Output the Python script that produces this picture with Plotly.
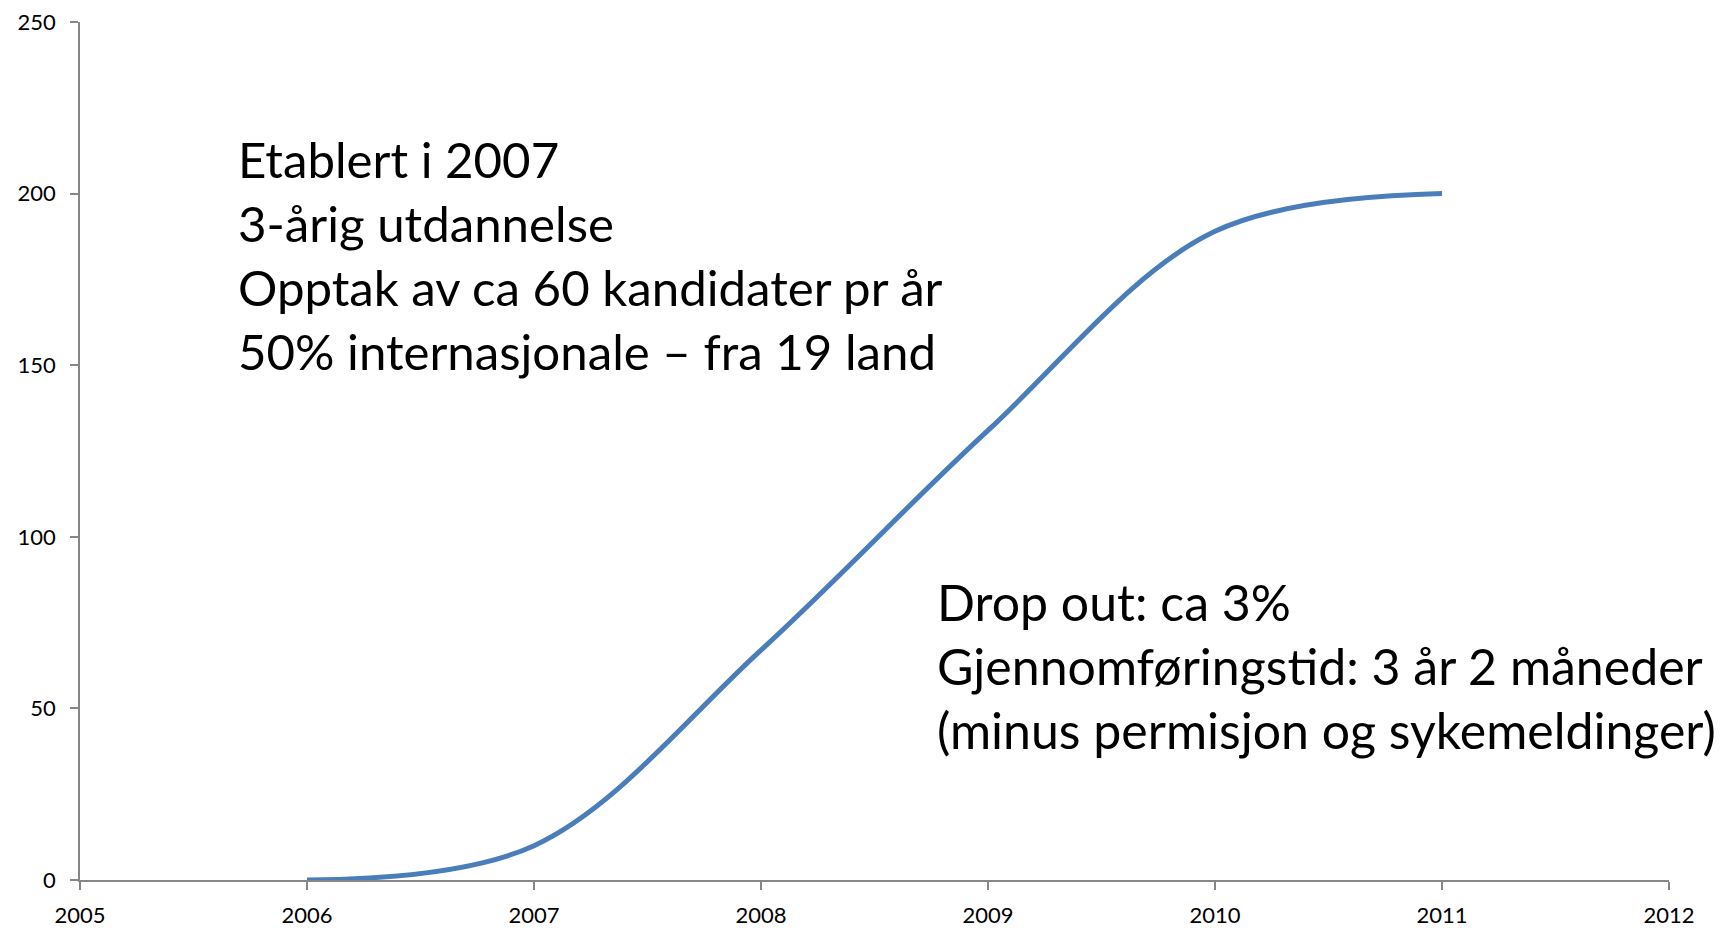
import plotly.graph_objects as go

years = [2006, 2007, 2008, 2009, 2010, 2011]
students = [0, 10, 67, 131, 189, 200]

x_ticks = [2005, 2006, 2007, 2008, 2009, 2010, 2011, 2012]
y_ticks = [0, 50, 100, 150, 200, 250]

text_block_1 = [
    "Etablert i 2007",
    "3-årig utdannelse",
    "Opptak av ca 60 kandidater pr år",
    "50% internasjonale – fra 19 land",
]
text_block_2 = [
    "Drop out: ca 3%",
    "Gjennomføringstid: 3 år 2 måneder",
    "(minus permisjon og sykemeldinger)",
]

# page body has an 8px margin, so the figure starts at (8, 8)
W, H = 1715, 920
ML, MR, MT, MB = 72, 54, 14, 48

FONT = "Lato, Carlito, sans-serif"

fig = go.Figure()
fig.add_trace(go.Scatter(
    x=years, y=students, mode="lines",
    line=dict(color="#4A7EBB", width=5, shape="spline", smoothing=1.0),
    showlegend=False, hoverinfo="skip", cliponaxis=False,
))

axis_common = dict(
    showline=True, linecolor="#868686", linewidth=1.5,
    ticks="outside", ticklen=8, tickcolor="#868686", tickwidth=1.5,
    showgrid=False, zeroline=False, ticklabeloverflow="allow",
    tickfont=dict(family=FONT, size=22, color="#000000"),
)
fig.update_xaxes(range=[2005, 2012], tickvals=x_ticks, ticktext=[str(v) for v in x_ticks],
                 ticklabelstandoff=7, **axis_common)
fig.update_yaxes(range=[0, 250], tickvals=y_ticks, ticktext=[str(v) for v in y_ticks],
                 ticklabelstandoff=10, **axis_common)

pw = W - ML - MR
ph = H - MT - MB

def px_to_paper(xp, yp):
    return (xp - ML) / pw, 1 - (yp - MT) / ph

annots = []
for i, t in enumerate(text_block_1):
    xp, yp = px_to_paper(228, 151 + i * 63.8)
    annots.append(dict(text=t, x=xp, y=yp, xref="paper", yref="paper",
                       xanchor="left", yanchor="middle", showarrow=False,
                       font=dict(family=FONT, size=49.2, color="#000000")))
for i, t in enumerate(text_block_2):
    xp, yp = px_to_paper(927, 594 + i * 63.8)
    annots.append(dict(text=t, x=xp, y=yp, xref="paper", yref="paper",
                       xanchor="left", yanchor="middle", showarrow=False,
                       font=dict(family=FONT, size=50, color="#000000")))

fig.update_layout(
    width=W, height=H,
    margin=dict(l=ML, r=MR, t=MT, b=MB, autoexpand=False),
    paper_bgcolor="white", plot_bgcolor="white",
    annotations=annots,
)

fig.write_html("out.html")
